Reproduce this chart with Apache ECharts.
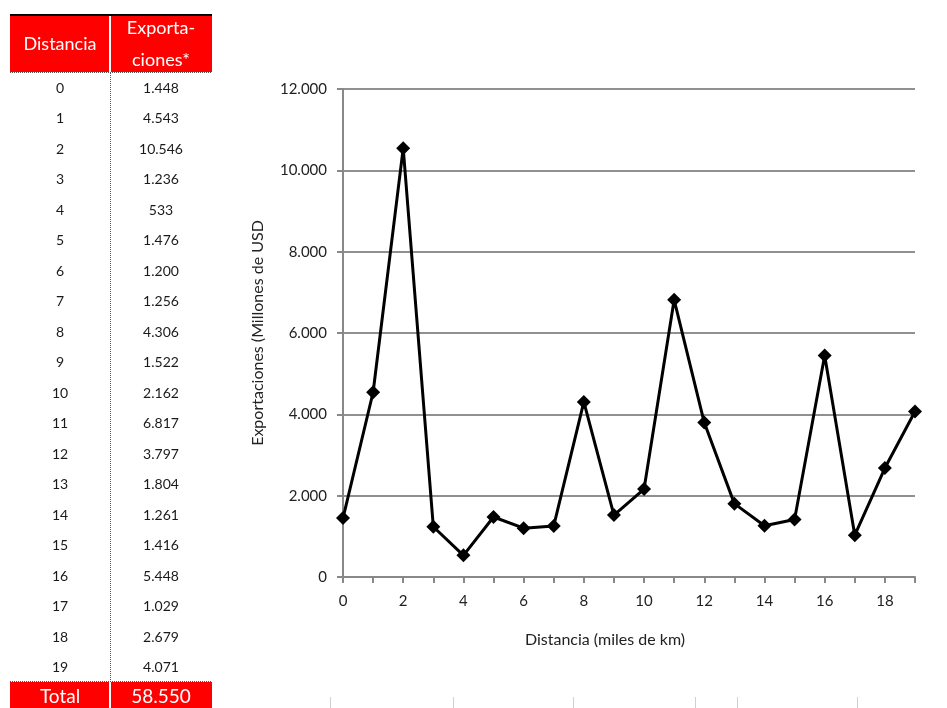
<!DOCTYPE html>
<html>
<head>
<meta charset="utf-8">
<script src="https://cdn.jsdelivr.net/npm/echarts@6/dist/echarts.min.js"></script>
<style>html,body{margin:0;padding:0;background:#fff;}#c{width:947px;height:708px;}</style>
</head>
<body>
<div id="c"></div>
<script>
var distances = ['0','1','2','3','4','5','6','7','8','9','10','11','12','13','14','15','16','17','18','19'];
var exports = [1448, 4543, 10546, 1236, 533, 1476, 1200, 1256, 4306, 1522, 2162, 6817, 3797, 1804, 1261, 1416, 5448, 1029, 2679, 4071];
var headerLabels = ['Distancia', 'Exporta-\nciones*'];
var totalLabel = 'Total';
var yAxisName = 'Exportaciones (Millones de USD';
var xAxisName = 'Distancia (miles de km)';

function fmt(v) {
  return String(v).replace(/\B(?=(\d{3})+(?!\d))/g, '.');
}
var total = exports.reduce(function (a, b) { return a + b; }, 0);

var FONT = 'Lato';
var graphics = [];
// table header
var colL = [10, 111], colW = [99, 101], colC = [60, 161];
graphics.push({type:'line', shape:{x1:10,y1:15,x2:212,y2:15}, style:{stroke:'#000', lineWidth:2}});
for (var i = 0; i < 2; i++) {
  graphics.push({type:'rect', shape:{x:colL[i], y:16, width:colW[i], height:56}, style:{fill:'#ff0000'}});
  graphics.push({type:'text', x:colC[i], y:44, style:{text:headerLabels[i], fill:'#fff', font:'18px ' + FONT, textAlign:'center', textVerticalAlign:'middle', lineHeight:32}});
}
graphics.push({type:'line', shape:{x1:10,y1:72.5,x2:212,y2:72.5}, style:{stroke:'#555', lineWidth:1, lineDash:[1,1]}});
graphics.push({type:'line', shape:{x1:110.5,y1:73,x2:110.5,y2:681}, style:{stroke:'#555', lineWidth:1, lineDash:[1,1]}});
for (var r = 0; r < distances.length; r++) {
  var yy = 88 + r * 30.5;
  graphics.push({type:'text', x:colC[0], y:yy, style:{text:distances[r], fill:'#1a1a1a', font:'14px ' + FONT, textAlign:'center', textVerticalAlign:'middle'}});
  graphics.push({type:'text', x:colC[1], y:yy, style:{text:fmt(exports[r]), fill:'#1a1a1a', font:'14px ' + FONT, textAlign:'center', textVerticalAlign:'middle'}});
}
graphics.push({type:'line', shape:{x1:10,y1:681.5,x2:212,y2:681.5}, style:{stroke:'#555', lineWidth:1, lineDash:[1,1]}});
for (var i = 0; i < 2; i++) {
  graphics.push({type:'rect', shape:{x:colL[i], y:682, width:colW[i], height:30}, style:{fill:'#ff0000'}});
}
graphics.push({type:'text', x:colC[0], y:697, style:{text:totalLabel, fill:'#fff', font:'19px ' + FONT, textAlign:'center', textVerticalAlign:'middle'}});
graphics.push({type:'text', x:colC[1], y:697, style:{text:fmt(total), fill:'#fff', font:'19px ' + FONT, textAlign:'center', textVerticalAlign:'middle'}});
// faint cell borders at bottom
[330, 453, 573, 695, 737, 857].forEach(function (x) {
  graphics.push({type:'line', shape:{x1:x+0.5,y1:697,x2:x+0.5,y2:708}, style:{stroke:'#d0d0d0', lineWidth:1}});
});
// x axis name
graphics.push({type:'text', x:605, y:640, style:{text:xAxisName, fill:'#222', font:'16px ' + FONT, textAlign:'center', textVerticalAlign:'middle'}});

var chart = echarts.init(document.getElementById('c'));
chart.setOption({
  animation: false,
  backgroundColor: '#fff',
  grid: {left: 343, top: 89, right: 32, bottom: 131, containLabel: false},
  xAxis: {
    type: 'category',
    data: distances,
    boundaryGap: false,
    axisLine: {lineStyle: {color: '#888', width: 2}},
    axisTick: {show: true, interval: 0, length: 6, lineStyle: {color: '#888', width: 2}},
    axisLabel: {interval: 1, margin: 17, color: '#222', fontFamily: FONT, fontSize: 15},
    splitLine: {show: false}
  },
  yAxis: {
    type: 'value',
    min: 0, max: 12000, interval: 2000,
    name: yAxisName,
    nameLocation: 'middle',
    nameGap: 77,
    nameTextStyle: {color: '#222', fontFamily: FONT, fontSize: 16},
    axisLine: {show: true, lineStyle: {color: '#888', width: 2}},
    axisTick: {show: true, inside: false, length: 6, lineStyle: {color: '#888', width: 2}},
    axisLabel: {margin: 16, color: '#222', fontFamily: FONT, fontSize: 15, formatter: function (v) { return fmt(v); }},
    splitLine: {show: true, lineStyle: {color: '#909090', width: 2}}
  },
  series: [{
    type: 'line',
    data: exports,
    symbol: 'path://M0,-1L1,0L0,1L-1,0Z',
    symbolSize: 14,
    showAllSymbol: true,
    lineStyle: {color: '#000', width: 3},
    itemStyle: {color: '#000'}
  }],
  graphic: graphics
});
</script>
</body>
</html>
